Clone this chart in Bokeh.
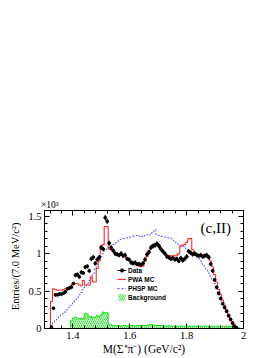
import numpy as np
from bokeh.plotting import figure
from bokeh.models import (Range1d, LinearAxis, Label, Legend, LegendItem, Title,
                          FixedTicker, ColumnDataSource, CustomJSTickFormatter)
from bokeh.embed import file_html
from bokeh.resources import INLINE

# ---------------- data (values in units of 10^3 entries) ----------------
bin_width = 0.007          # GeV/c^2
x_start = 1.30
n_bins = 100

data_first_bin = 3
data_vals = [0.02, 0.27, 0.45, 0.45, 0.46, 0.46, 0.47, 0.49, 0.53, 0.54,
             0.55, 0.60, 0.71, 0.72, 0.69, 0.75, 0.74, 0.82, 0.83, 0.77,
             0.93, 0.95, 0.87, 0.92, 0.95, 1.08, 1.06, 1.48, 1.43, 1.14,
             1.08, 1.04, 1.00, 0.99, 0.98, 1.00, 0.97, 0.98, 0.93, 0.92,
             0.88, 0.87, 0.88, 0.86, 0.86, 0.85, 0.87, 0.92, 0.99, 1.02,
             1.08, 1.10, 1.11, 1.13, 1.10, 1.06, 1.03, 1.00, 0.96, 0.95,
             0.93, 0.94, 0.92, 0.93, 0.90, 0.94, 0.91, 0.93, 0.96, 1.03,
             1.01, 0.99, 1.00, 0.98, 0.97, 0.98, 0.96, 0.97, 0.98, 0.95,
             0.86, 0.77, 0.65, 0.55, 0.47, 0.40, 0.33, 0.28, 0.23, 0.17,
             0.12, 0.07, 0.03, 0.01]

pwa_mc = [0.00, 0.00, 0.00, 0.36, 0.53, 0.52, 0.51, 0.51, 0.51, 0.52,
          0.53, 0.53, 0.53, 0.58, 0.59, 0.60, 0.60, 0.58, 0.57, 0.64,
          0.58, 0.58, 0.58, 0.69, 0.62, 0.62, 0.80, 0.90, 1.10, 1.12,
          1.36, 1.36, 1.06, 1.05, 1.03, 1.01, 1.00, 1.00, 0.99, 0.98,
          0.96, 0.94, 0.91, 0.90, 0.87, 0.85, 0.84, 0.83, 0.83, 0.83,
          0.90, 0.96, 1.04, 1.08, 1.12, 1.13, 1.13, 1.12, 1.06, 1.03,
          1.00, 0.98, 0.97, 0.97, 0.97, 0.97, 0.98, 1.00, 1.10, 1.11,
          1.12, 1.15, 1.20, 1.20, 1.05, 1.00, 0.99, 0.98, 0.97, 0.97,
          0.96, 0.97, 0.97, 0.90, 0.82, 0.72, 0.62, 0.52, 0.45, 0.38,
          0.31, 0.25, 0.19, 0.14, 0.09, 0.05, 0.02, 0.00, 0.00, 0.00]

phsp_mc = [0.00, 0.00, 0.00, 0.02, 0.08, 0.11, 0.14, 0.16, 0.18, 0.20,
           0.22, 0.25, 0.28, 0.31, 0.34, 0.38, 0.41, 0.45, 0.48, 0.52,
           0.56, 0.60, 0.64, 0.67, 0.73, 0.80, 0.86, 0.92, 0.96, 1.00,
           1.04, 1.06, 1.08, 1.10, 1.12, 1.14, 1.16, 1.18, 1.19, 1.20,
           1.20, 1.21, 1.22, 1.22, 1.23, 1.23, 1.24, 1.23, 1.24, 1.22,
           1.24, 1.25, 1.24, 1.27, 1.29, 1.32, 1.25, 1.24, 1.23, 1.23,
           1.22, 1.21, 1.21, 1.20, 1.18, 1.16, 1.14, 1.12, 1.11, 1.10,
           1.09, 1.06, 1.04, 1.02, 1.00, 0.99, 0.97, 0.93, 0.90, 0.86,
           0.83, 0.79, 0.74, 0.70, 0.64, 0.60, 0.53, 0.48, 0.42, 0.36,
           0.31, 0.25, 0.19, 0.13, 0.09, 0.05, 0.02, 0.00, 0.00, 0.00]

background = [0.00, 0.00, 0.00, 0.00, 0.00, 0.00, 0.00, 0.00, 0.00, 0.00,
              0.00, 0.00, 0.00, 0.10, 0.14, 0.15, 0.14, 0.13, 0.14, 0.13,
              0.20, 0.19, 0.15, 0.16, 0.14, 0.15, 0.17, 0.16, 0.18, 0.22,
              0.21, 0.21, 0.05, 0.05, 0.04, 0.04, 0.04, 0.04, 0.03, 0.04,
              0.04, 0.03, 0.04, 0.04, 0.04, 0.03, 0.04, 0.04, 0.04, 0.04,
              0.04, 0.04, 0.05, 0.05, 0.05, 0.04, 0.04, 0.04, 0.04, 0.04,
              0.03, 0.03, 0.04, 0.03, 0.03, 0.03, 0.03, 0.03, 0.03, 0.03,
              0.03, 0.03, 0.03, 0.03, 0.03, 0.03, 0.03, 0.03, 0.03, 0.03,
              0.03, 0.03, 0.03, 0.03, 0.03, 0.03, 0.03, 0.03, 0.03, 0.03,
              0.03, 0.03, 0.03, 0.03, 0.02, 0.02, 0.02, 0.01, 0.00, 0.00]

x_ticks = [1.4, 1.6, 1.8, 2.0]
y_ticks = [0, 0.5, 1, 1.5]
y_tick_labels = {0: "0", 0.5: "0.5", 1: "1", 1.5: "1.5"}

# ---------------- derived geometry ----------------
edges = x_start + bin_width * np.arange(n_bins + 1)
d_idx = np.arange(data_first_bin, data_first_bin + len(data_vals))
d_lo = edges[d_idx]
d_hi = edges[d_idx + 1]
d_x = 0.5 * (d_lo + d_hi)
d_y = np.array(data_vals)
d_err = np.sqrt(d_y * 1000.0) / 1000.0  # statistical errors sqrt(N)

SERIF = "Liberation Serif"
SANS = "Liberation Sans"

W, H = 277, 358
p = figure(width=W, height=H, output_backend="svg", toolbar_location=None,
           x_range=Range1d(1.3, 2.0), y_range=Range1d(0, 1.575),
           min_border_left=44, min_border_right=34, min_border_top=210,
           min_border_bottom=30)
p.grid.visible = False
p.outline_line_color = "black"
p.outline_line_width = 1
p.background_fill_color = "white"
p.border_fill_color = "white"

def style_axis(ax, labels=True):
    ax.axis_line_color = "black"
    ax.major_tick_in = 5
    ax.major_tick_out = 0
    ax.minor_tick_in = 3
    ax.minor_tick_out = 0
    ax.major_tick_line_color = "black"
    ax.minor_tick_line_color = "black"
    ax.major_label_text_font = SERIF
    ax.major_label_text_font_size = "10.5px"
    ax.major_label_text_font_style = "normal"
    ax.major_label_text_color = "black"
    ax.major_label_standoff = 3
    if not labels:
        ax.formatter = CustomJSTickFormatter(code="return ''")

xt = FixedTicker(ticks=x_ticks, minor_ticks=list(np.round(np.arange(1.32, 2.0001, 0.04), 3)))
yt = FixedTicker(ticks=y_ticks, minor_ticks=list(np.round(np.arange(0, 1.5751, 0.1), 3)))

p.xaxis.ticker = xt
p.yaxis.ticker = yt
p.yaxis.major_label_overrides = y_tick_labels
p.xaxis.major_label_overrides = {1.4: "1.4", 1.6: "1.6", 1.8: "1.8", 2.0: "2"}
style_axis(p.xaxis[0])
style_axis(p.yaxis[0])
p.xaxis.axis_label = "M(Σ⁺π⁻) (GeV/c²)"
p.xaxis.axis_label_text_font = SERIF
p.xaxis.axis_label_text_font_size = "11.5px"
p.xaxis.axis_label_text_font_style = "normal"
p.xaxis.axis_label_text_color = "black"
p.xaxis.axis_label_standoff = 1

ax_r = LinearAxis(ticker=yt)
style_axis(ax_r, labels=False)
p.add_layout(ax_r, "right")
ax_t = LinearAxis(ticker=xt)
style_axis(ax_t, labels=False)
p.add_layout(ax_t, "above")

# background: hatched green area
bg = np.array(background)
bg_src = ColumnDataSource(dict(x=edges, y=np.append(bg, bg[-1])))
bg_area = p.varea_step(x="x", y1=0, y2="y", step_mode="after", source=bg_src,
                       fill_color="#eaffea", fill_alpha=1.0,
                       hatch_pattern="/", hatch_color="#22dd22",
                       hatch_scale=4, hatch_weight=0.9)
bg_line = p.step(x="x", y="y", mode="after", source=bg_src,
                 line_color="#11e011", line_width=1)

def step_src(vals):
    v = np.array(vals)
    return ColumnDataSource(dict(x=edges, y=np.append(v, v[-1])))

phsp_line = p.step(x="x", y="y", mode="after", source=step_src(phsp_mc),
                   line_color="#4d4dff", line_width=1, line_dash="2 2")
pwa_line = p.step(x="x", y="y", mode="after", source=step_src(pwa_mc),
                  line_color="#ff2a2a", line_width=1.1)

dsrc = ColumnDataSource(dict(x=d_x, y=d_y, lo=d_lo, hi=d_hi,
                             ylo=d_y - d_err, yhi=d_y + d_err))
d_h = p.segment(x0="lo", y0="y", x1="hi", y1="y", source=dsrc,
                line_color="black", line_width=1)
d_v = p.segment(x0="x", y0="ylo", x1="x", y1="yhi", source=dsrc,
                line_color="black", line_width=1)
d_pt = p.scatter(x="x", y="y", source=dsrc, size=2.8, marker="circle",
                 fill_color="black", line_color="black")

legend = Legend(items=[
    LegendItem(label="Data", renderers=[d_h, d_pt]),
    LegendItem(label="PWA MC", renderers=[pwa_line]),
    LegendItem(label="PHSP MC", renderers=[phsp_line]),
    LegendItem(label="Background", renderers=[bg_area]),
], location=(73, 27))
legend.background_fill_alpha = 0
legend.border_line_alpha = 0
legend.padding = 0
legend.margin = 0
legend.spacing = 1
legend.glyph_width = 9
legend.glyph_height = 8
legend.label_height = 8
legend.label_standoff = 2
legend.label_text_font = SANS
legend.label_text_font_style = "bold"
legend.label_text_font_size = "6.5px"
legend.label_text_color = "black"
p.add_layout(legend, "center")

# texts
p.add_layout(Label(x=1.849, y=1.347, text="(c,II)", text_font=SERIF,
                   text_font_size="15px", text_font_style="normal",
                   text_baseline="middle", text_align="left", text_color="black"))
p.add_layout(Title(text="×10³", align="left", offset=-3.5, standoff=1,
                   text_font=SERIF, text_font_size="9.5px",
                   text_font_style="normal", text_color="black"), "above")
p.add_layout(Title(text="Entries/(7.0 MeV/c²)", align="right", offset=12,
                   standoff=9, text_font=SERIF, text_font_size="10.5px",
                   text_font_style="normal", text_color="black"), "left")

open("out.html", "w").write(file_html(p, INLINE))
